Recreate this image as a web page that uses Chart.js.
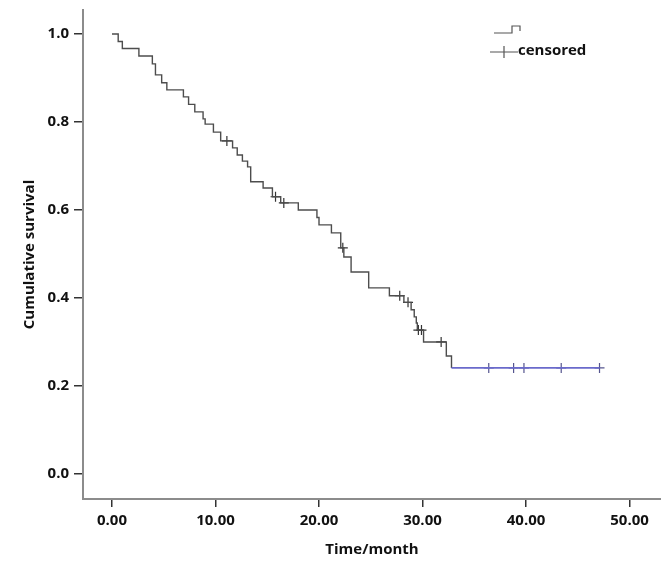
<!DOCTYPE html>
<html>
<head>
<meta charset="utf-8">
<title>Cumulative survival</title>
<script src="https://cdn.jsdelivr.net/npm/chart.js@4.4.1/dist/chart.umd.min.js"></script>
<style>
    html, body { margin: 0; padding: 0; background: #ffffff; }
    #wrap { width: 661px; height: 563px; position: relative; }
</style>
</head>
<body>
<div id="wrap"><canvas id="kmChart"></canvas></div>
<script>
// ================= DATA =================
// Kaplan-Meier steps: time (month) where survival drops to the given level
const eventTimes = [0, 0.6, 1.0, 2.6, 3.9, 4.2, 4.8, 5.3, 6.9, 7.4, 8.0, 8.8, 9.0, 9.8, 10.5,
    11.65, 12.1, 12.6, 13.1, 13.4, 14.6, 15.5, 16.3, 18.0, 19.8, 20.0, 21.2, 22.1, 22.4,
    23.1, 24.8, 26.8, 28.2, 28.9, 29.2, 29.4, 29.5, 30.1, 32.3, 32.8, 47.1];
const survival = [1.0, 0.983, 0.967, 0.950, 0.932, 0.907, 0.889, 0.873, 0.857, 0.840, 0.823,
    0.807, 0.795, 0.777, 0.757, 0.741, 0.725, 0.711, 0.698, 0.664, 0.650, 0.630, 0.616,
    0.600, 0.583, 0.566, 0.548, 0.514, 0.493, 0.459, 0.423, 0.405, 0.390, 0.373, 0.357,
    0.343, 0.327, 0.300, 0.268, 0.241, 0.241];

// censored observations
const censorTimes = [11.1, 15.8, 16.6, 22.3, 27.8, 28.6, 29.6, 29.9, 31.8, 36.4, 38.8, 39.8, 43.4, 47.1];
const censorSurvival = [0.757, 0.630, 0.616, 0.514, 0.405, 0.390, 0.327, 0.327, 0.300,
    0.241, 0.241, 0.241, 0.241, 0.241];

const xTicks = [0, 10, 20, 30, 40, 50];
const yTicks = [0.0, 0.2, 0.4, 0.6, 0.8, 1.0];


// ================= STYLE =================
const LINE_COLOR = "#4d4d4d";
const TAIL_COLOR = "#6a6acb";
const AXIS_COLOR = "#8c8c8c";
const TEXT_COLOR = "#111111";
const FONT = "'Open Sans', 'Noto Sans', sans-serif";

// the curve turns blue after the last drop
const tailStart = eventTimes[eventTimes.length - 2];


// ================= LEGEND =================
const legendPlugin = {
    id: "kmLegend",
    afterDraw(chart) {
        const ctx = chart.ctx;
        ctx.save();
        ctx.strokeStyle = "#555555";
        ctx.lineWidth = 1.2;

        // step glyph
        ctx.beginPath();
        ctx.moveTo(494, 33);
        ctx.lineTo(512, 33);
        ctx.lineTo(512, 26);
        ctx.lineTo(520, 26);
        ctx.lineTo(520, 31);
        ctx.stroke();

        // censored cross
        ctx.beginPath();
        ctx.moveTo(490, 52);
        ctx.lineTo(518, 52);
        ctx.moveTo(504, 46);
        ctx.lineTo(504, 58);
        ctx.stroke();

        ctx.fillStyle = TEXT_COLOR;
        ctx.font = "bold 15px " + FONT;
        ctx.textBaseline = "middle";
        ctx.fillText("censored", 518, 51);
        ctx.restore();
    }
};


// ================= CHART =================
function noPadding(scale) {
    scale.paddingLeft = 0;
    scale.paddingRight = 0;
    scale.paddingTop = 0;
    scale.paddingBottom = 0;
}

function buildChart() {
    const curve = eventTimes.map((t, i) => ({ x: t, y: survival[i] }));
    const censored = censorTimes.map((t, i) => ({ x: t, y: censorSurvival[i] }));

    new Chart(document.getElementById("kmChart"), {
        type: "line",
        data: {
            datasets: [
                {
                    label: "survival",
                    data: curve,
                    stepped: "before",
                    borderColor: LINE_COLOR,
                    borderWidth: 1.4,
                    pointRadius: 0,
                    fill: false,
                    segment: {
                        borderColor: c => c.p0.parsed.x >= tailStart ? TAIL_COLOR : LINE_COLOR,
                        borderWidth: c => c.p0.parsed.x >= tailStart ? 1.8 : 1.4
                    }
                },
                {
                    label: "censored",
                    data: censored,
                    showLine: false,
                    pointStyle: "cross",
                    pointRadius: 5,
                    pointBorderWidth: 1.2,
                    pointBorderColor: c => (c.raw && c.raw.x > tailStart) ? "#55558f" : "#333333"
                }
            ]
        },
        options: {
            responsive: true,
            maintainAspectRatio: false,
            animation: false,
            layout: {
                autoPadding: false,
                padding: { top: 10, right: 0, left: 0, bottom: 0 }
            },
            plugins: {
                legend: { display: false },
                tooltip: { enabled: false }
            },
            scales: {
                x: {
                    type: "linear",
                    min: -2.8,
                    max: 53.04,
                    afterBuildTicks: scale => { scale.ticks = xTicks.map(v => ({ value: v })); },
                    afterFit: scale => { scale.height = 64; noPadding(scale); },
                    ticks: {
                        color: TEXT_COLOR,
                        padding: 5,
                        maxRotation: 0,
                        font: { family: FONT, size: 15, weight: "bold" },
                        callback: v => Number(v).toFixed(2)
                    },
                    grid: {
                        drawOnChartArea: false,
                        drawTicks: true,
                        tickLength: 8,
                        color: "#333333",
                        lineWidth: 1.5
                    },
                    border: { display: true, color: AXIS_COLOR, width: 2 },
                    title: {
                        display: true,
                        text: "Time/month",
                        color: TEXT_COLOR,
                        padding: { top: 4, bottom: 4 },
                        font: { family: FONT, size: 15, weight: "bold" }
                    }
                },
                y: {
                    min: -0.057,
                    max: 1.0545,
                    afterBuildTicks: scale => { scale.ticks = yTicks.map(v => ({ value: v })); },
                    afterFit: scale => { scale.width = 83; noPadding(scale); },
                    ticks: {
                        color: TEXT_COLOR,
                        padding: 5,
                        font: { family: FONT, size: 15, weight: "bold" },
                        callback: v => Number(v).toFixed(1)
                    },
                    grid: {
                        drawOnChartArea: false,
                        drawTicks: true,
                        tickLength: 9,
                        color: "#333333",
                        lineWidth: 1.5
                    },
                    border: { display: true, color: AXIS_COLOR, width: 2 },
                    title: {
                        display: true,
                        text: "Cumulative survival",
                        color: TEXT_COLOR,
                        padding: { top: 21, bottom: 4 },
                        font: { family: FONT, size: 15, weight: "bold" }
                    }
                }
            }
        },
        plugins: [legendPlugin]
    });
}

document.addEventListener("DOMContentLoaded", buildChart);
</script>
</body>
</html>
